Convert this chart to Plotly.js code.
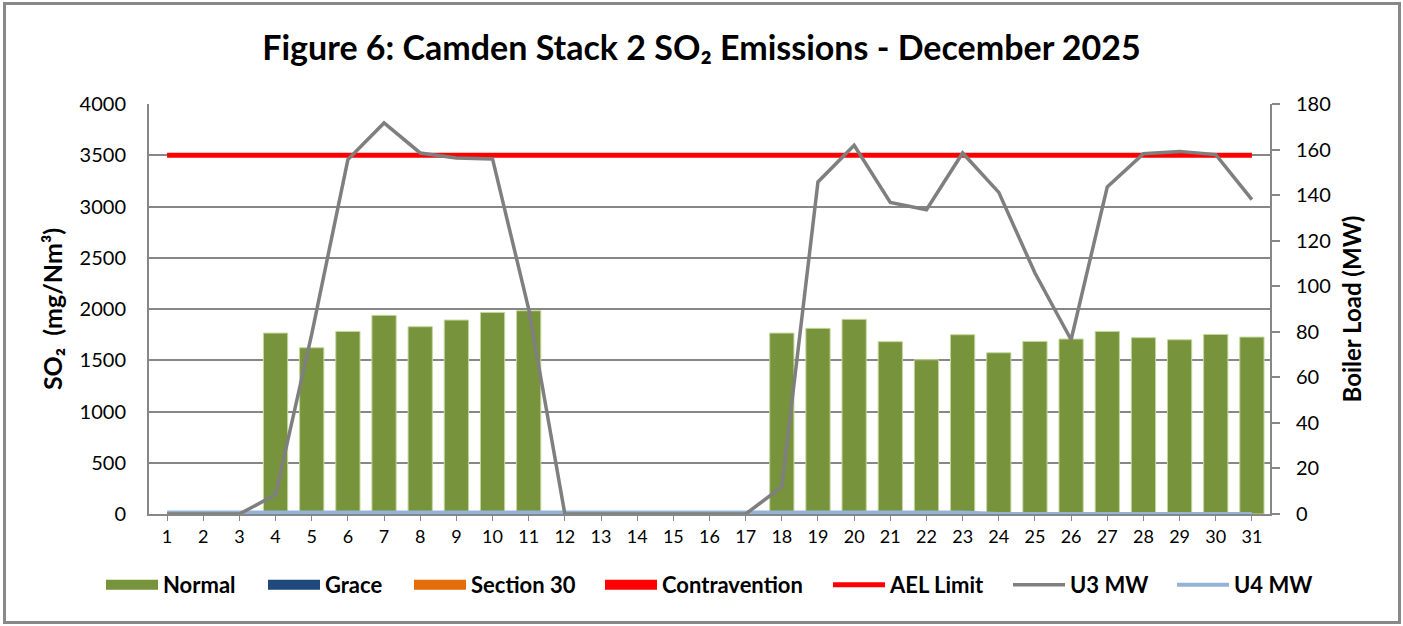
<!DOCTYPE html>
<html>
<head>
<meta charset="utf-8">
<script src="https://cdn.plot.ly/plotly-3.0.1.min.js"></script>
<style>
  html, body { margin: 0; padding: 0; background: #fff; }
  #wrap { position: relative; width: 1403px; height: 626px; }
  #chart { position: absolute; left: 0; top: 0; width: 1403px; height: 626px; }
  #frame { position: absolute; left: 3px; top: 2px; width: 1392px; height: 616px; border: 3px solid #888888; pointer-events: none; }
</style>
</head>
<body>
<div id="wrap"><div id="chart"></div><div id="frame"></div></div>
<script>
// ---- data ----
const days = [1,2,3,4,5,6,7,8,9,10,11,12,13,14,15,16,17,18,19,20,21,22,23,24,25,26,27,28,29,30,31];
const normalSO2 = [null,null,null,1765,1622,1781,1938,1827,1892,1967,1983,
                   null,null,null,null,null,null,
                   1765,1811,1899,1681,1505,1749,1573,1684,1707,1781,1720,1700,1752,1726];
const aelLimit = [3500,3500,3500,3500,3500,3500,3500,3500,3500,3500,3500,3500,3500,3500,3500,3500,
                  3500,3500,3500,3500,3500,3500,3500,3500,3500,3500,3500,3500,3500,3500,3500];
const u3MW = [0,0,0,8.5,79,155.6,171.7,158.5,156.3,155.9,90,0,0,0,0,0,0,
              11.9,145.8,161.9,136.8,133.6,158.5,141.2,105.8,76.5,143.6,158.2,159.2,157.8,138];
const u4MW = [0.7,0.7,0.7,0.7,0.7,0.7,0.7,0.7,0.7,0.7,0.7,0.7,0.7,0.7,0.7,0.7,0.7,0.7,0.7,0.7,0.7,0.7,0.7,
              0,0,0,0,0,0,0,0];
const legendNames = ["Normal","Grace","Section 30","Contravention","AEL Limit","U3 MW","U4 MW"];

const FONT = "Lato, 'Open Sans', 'Liberation Sans', sans-serif";
const C = { normal:"#77933C", grace:"#1F497D", s30:"#E46C0A", contra:"#FF0000",
            ael:"#FF0000", u3:"#7F7F7F", u4:"#95B3D7", grid:"#878787" };

// legend ids, one small legend per entry so each can sit where the reference has it
const L = ["legend","legend2","legend3","legend4","legend5","legend6","legend7"];

const traces = [
  { type:"bar", x:days, y:normalSO2, name:legendNames[0], showlegend:false,
    marker:{ color:C.normal, line:{ color:"#C3D69B", width:1 } } },
  { type:"scatter", mode:"lines", x:[null], y:[null], name:legendNames[0], legend:L[0], line:{ color:C.normal, width:10 } },
  { type:"scatter", mode:"lines", x:[null], y:[null], name:legendNames[1], legend:L[1], line:{ color:C.grace, width:10 } },
  { type:"scatter", mode:"lines", x:[null], y:[null], name:legendNames[2], legend:L[2], line:{ color:C.s30, width:10 } },
  { type:"scatter", mode:"lines", x:[null], y:[null], name:legendNames[3], legend:L[3], line:{ color:C.contra, width:10 } },
  { type:"scatter", mode:"lines", x:days, y:aelLimit, name:legendNames[4], legend:L[4], line:{ color:C.ael, width:5 } },
  { type:"scatter", mode:"lines", x:days, y:u4MW, name:legendNames[6], yaxis:"y2", legend:L[6], line:{ color:C.u4, width:4 } },
  { type:"scatter", mode:"lines", x:days, y:u3MW, name:legendNames[5], yaxis:"y2", legend:L[5], line:{ color:C.u3, width:3.5 } }
];

const legendLeftPx = [101, 263, 409, 600, 828, 1008, 1172];
const plotL = 149, plotW = 1121;

const layout = {
  width:1403, height:626,
  margin:{ l:plotL, r:1403 - plotL - plotW, t:104, b:112 },
  paper_bgcolor:"#ffffff", plot_bgcolor:"#ffffff",
  font:{ family:FONT, color:"#000000", size:18 },
  title:{ text:"<b>Figure 6: Camden Stack 2 SO₂ Emissions - December 2025</b>",
          font:{ family:FONT, size:34, color:"#000000" }, x:0.5, xanchor:"center", y:0.923, yanchor:"middle" },
  bargap:0.33,
  showlegend:true,
  xaxis:{ range:[0.5,31.5], tickvals:days, ticktext:days.map(String), ticks:"outside", ticklen:5,
          tickcolor:C.grid, showline:true, linecolor:C.grid, linewidth:2, showgrid:false, zeroline:false,
          tickfont:{ family:FONT, size:18 } },
  yaxis:{ range:[0,4000], dtick:500, tick0:0, showgrid:true, gridcolor:C.grid, gridwidth:2,
          showline:true, linecolor:C.grid, linewidth:2, zeroline:false, ticks:"", ticklabelstandoff:17,
          tickfont:{ family:FONT, size:20 },
          title:{ text:"<b>SO₂\u00a0\u00a0(mg/Nm³)</b>", font:{ family:FONT, size:25 }, standoff:10 } },
  yaxis2:{ overlaying:"y", side:"right", range:[0,180], dtick:20, tick0:0, showgrid:false, zeroline:false,
           showline:true, linecolor:C.grid, linewidth:2, ticks:"outside", ticklen:8, tickcolor:C.grid, tickwidth:2,
           ticklabelstandoff:12, tickfont:{ family:FONT, size:20 },
           title:{ text:"<b>Boiler Load (MW)</b>", font:{ family:FONT, size:24 }, standoff:14 } }
};
L.forEach((id, i) => {
  layout[id] = { orientation:"h", x:(legendLeftPx[i] - plotL) / plotW, xanchor:"left", y:-0.173, yanchor:"middle",
                 itemwidth:52, bgcolor:"rgba(0,0,0,0)",
                 font:{ family:FONT, size:22, color:"#000000", weight:"bold" } };
});

Plotly.newPlot("chart", traces, layout, { displayModeBar:false, staticPlot:true });
</script>
</body>
</html>
